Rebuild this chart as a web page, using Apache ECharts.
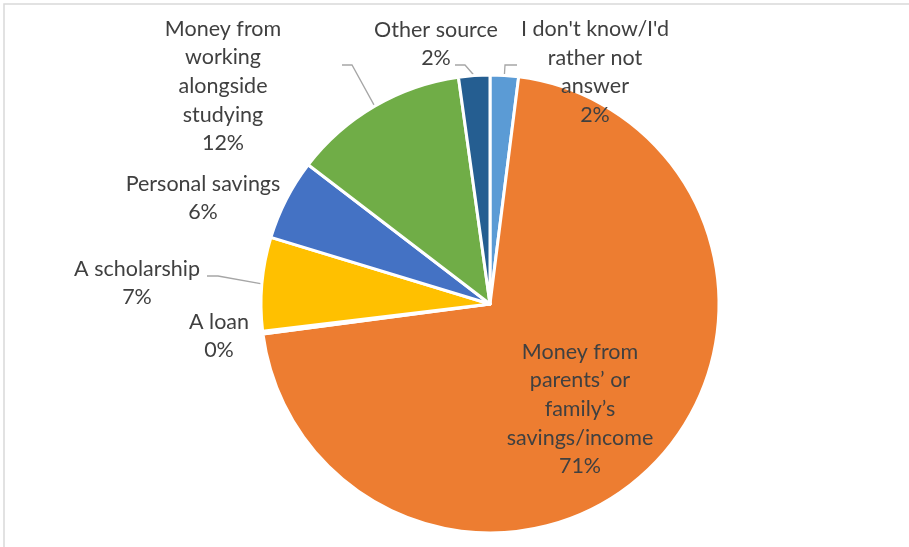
<!DOCTYPE html>
<html>
<head>
<meta charset="utf-8">
<title>Sources of funding</title>
<script src="https://cdn.jsdelivr.net/npm/echarts@6/dist/echarts.min.js"></script>
<style>
  html, body { margin: 0; padding: 0; background: #ffffff; }
  #chart { width: 909px; height: 547px; }
</style>
</head>
<body>
<div id="chart"></div>
<script>
// Funding sources (share of respondents, %), clockwise from 12 o'clock
var categories = [
  "I don't know/I'd\nrather not\nanswer",
  "Money from\nparents\u2019 or\nfamily\u2019s\nsavings/income",
  "A loan",
  "A scholarship",
  "Personal savings",
  "Money from\nworking\nalongside\nstudying",
  "Other source"
];
var shares = [2.0, 70.9, 0.2, 6.6, 5.7, 12.4, 2.2];
var sliceColors = ['#5B9BD5', '#ED7D31', '#A5A5A5', '#FFC000', '#4472C4', '#70AD47', '#255E91'];

// Label placement: centre of each text block, plus the elbow and end of its leader line
var labelSpots = [
  { x: 595, y: 72,  line: [[505, 65], [517, 65]] },
  { x: 580, y: 409, line: null },
  { x: 219, y: 336, line: null },
  { x: 137, y: 283, line: [[218, 276], [207, 276]] },
  { x: 203, y: 198, line: null },
  { x: 223, y: 86,  line: [[352, 65], [342, 65]] },
  { x: 436, y: 44,  line: [[465, 65], [455, 65]] }
];

var chart = echarts.init(document.getElementById('chart'), null, { renderer: 'canvas' });

var pieData = categories.map(function (name, i) {
  return {
    name: name,
    value: shares[i],
    itemStyle: { color: sliceColors[i] },
    labelLine: { show: !!labelSpots[i].line }
  };
});

chart.setOption({
  animation: false,
  backgroundColor: '#ffffff',
  graphic: [{
    type: 'rect',
    shape: { x: 4, y: 4, width: 1200, height: 1200 },
    style: { fill: 'none', stroke: '#d9d9d9', lineWidth: 1.5 },
    silent: true
  }],
  series: [{
    type: 'pie',
    center: [490, 304],
    radius: 229,
    startAngle: 90,
    clockwise: true,
    percentPrecision: 0,
    avoidLabelOverlap: false,
    itemStyle: { borderColor: '#ffffff', borderWidth: 3 },
    emphasis: { disabled: true },
    label: {
      show: true,
      position: 'outside',
      formatter: '{b}\n{d}%',
      color: '#404040',
      fontFamily: 'Lato',
      fontSize: 21.5,
      lineHeight: 28.6,
      align: 'center'
    },
    labelLine: {
      show: true,
      length: 20,
      length2: 10,
      lineStyle: { color: '#a6a6a6', width: 1.3 }
    },
    labelLayout: function (p) {
      var spot = labelSpots[p.dataIndex];
      var out = { x: spot.x, y: spot.y, align: 'center', verticalAlign: 'middle' };
      if (spot.line && p.labelLinePoints) {
        out.labelLinePoints = [p.labelLinePoints[0], spot.line[0], spot.line[1]];
      }
      return out;
    },
    data: pieData
  }]
});
</script>
</body>
</html>
